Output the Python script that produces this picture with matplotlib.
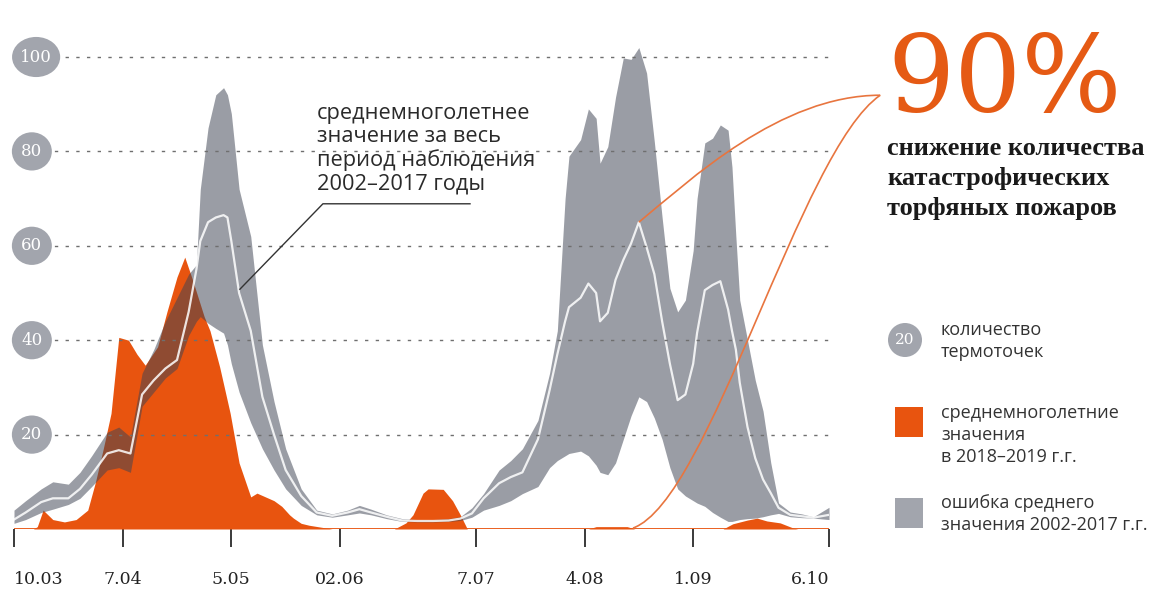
import matplotlib.pyplot as plt
from matplotlib.path import Path
from matplotlib.patches import PathPatch, Rectangle, Ellipse

# canvas size in pixels
W, H = 1152, 589

# days since 10 March
days = [0, 3, 7, 10, 14, 17, 20, 24, 27, 30, 33, 36, 39, 42, 45, 47, 48, 50, 52, 54,
        55, 56, 58, 61, 64, 67, 70, 74, 78, 82, 86, 89, 92, 96, 100, 104, 108, 112, 115, 118,
        121, 125, 128, 131, 135, 138, 140, 142, 143, 146, 148, 150, 151, 153, 155, 157, 159, 161, 163, 165,
        167, 169, 171, 173, 175, 176, 178, 180, 182, 184, 185, 186, 187, 189, 191, 193, 195, 197, 200, 203,
        206, 210]
# 2002-2017: upper / lower edge of the error band and the mean
upper = [4, 6, 8.5, 10, 9.5, 12, 15.5, 20.5, 21.6, 19.5, 33, 38, 44, 49, 54, 56, 72, 85, 92, 93.5,
         92, 88, 72, 62, 39, 27, 17, 8.5, 4, 3.2, 4, 5, 4.2, 3, 2.2, 2, 2, 2.2, 2.6, 4.5,
         7.5, 12.5, 14.5, 17, 23, 33, 42, 70, 79, 82.5, 89, 87, 77.5, 81, 91.5, 99.8, 99.5, 102, 96.6, 82,
         66, 51, 46, 48.5, 59, 70, 81.8, 82.8, 85.6, 84.5, 76.7, 62, 48.5, 40, 31.5, 25, 14, 5.5, 3.6, 3.2,
         2.6, 4.6]
lower = [1.2, 2, 3.5, 4.2, 5.2, 6.5, 9, 12.5, 13, 12, 26, 29, 32, 34, 41, 44, 45, 43.6, 42.5, 41.5,
         39, 35, 29, 22.5, 17, 12.5, 8.5, 5, 3, 2.5, 3, 3.4, 3, 2.2, 1.6, 1.5, 1.5, 1.6, 1.8, 2.5,
         4, 5, 6, 7.5, 9, 13, 14.5, 15.5, 16, 16.5, 15.5, 13.5, 12, 11.5, 14, 19, 24, 28, 27, 23.5,
         19, 13, 8.5, 7, 6, 5.5, 4.8, 3.5, 2.5, 1.6, 1.6, 1.8, 2, 2.2, 2.3, 2.6, 3, 3.3, 2.6, 2.4,
         2.3, 2]
mean = [2, 3.5, 5.7, 6.5, 6.5, 8.5, 11.5, 16, 16.7, 16, 28.5, 31.5, 34, 35.8, 46, 55, 61, 65, 66, 66.5,
        66, 61, 50, 42, 28, 20, 12.5, 7, 3.5, 2.8, 3.5, 4.2, 3.5, 2.6, 1.8, 1.7, 1.7, 1.8, 2.2, 3.3,
        6.5, 9.7, 11, 12, 19, 29.4, 37, 44, 47, 49, 52, 50, 44, 45.8, 52.8, 57, 60.5, 65, 59.7, 54,
        44, 35, 27.3, 28.5, 35, 41.5, 50.6, 51.7, 52.5, 46.5, 42, 38, 31, 21.6, 15, 10.5, 7.6, 4.5, 3, 2.7,
        2.4, 3]

# 2018-2019 average
fire_days = [0, 5, 6, 7.5, 10, 13, 16, 19, 21, 23, 25, 27, 29.5, 31.7, 33.8, 37, 39.4, 42, 44, 46,
             49, 50.5, 53, 55.7, 58, 61, 62.6, 67, 69, 71, 72, 74, 76, 79, 82, 98, 101, 102.8, 105.4, 106.7,
             110.6, 113, 115, 116.8, 148, 150, 158, 160, 182.7, 185.2, 189, 191.5, 194, 197.4, 200.8, 202, 210]
fire = [0, 0, 0.5, 4, 2, 1.5, 2, 4, 10, 17, 24.5, 40.6, 40, 37, 34.7, 38.6, 46, 53.4, 57.6, 52.8,
        45, 42, 34.3, 24.5, 14, 6.8, 7.6, 6, 4.8, 3, 2.3, 1.2, 0.8, 0.4, 0, 0, 1.3, 3, 7.6, 8.5,
        8.4, 6, 3, 0, 0, 0.5, 0.5, 0, 0, 1.1, 1.9, 2.3, 1.7, 1.3, 0.2, 0, 0]

tick_days = [0, 28, 56, 84, 119, 147, 175, 210]
tick_labels = ['10.03', '7.04', '5.05', '02.06', '7.07', '4.08', '1.09', '6.10']
grid_levels = [20, 40, 60, 80, 100]

ORANGE = '#E8540F'
BADGE = '#A2A5AD'
TEXT = '#2a2a2a'


def fx(x):
    return x / W


def fy(y):
    return 1 - y / H


fig = plt.figure(figsize=(W / 100, H / 100), dpi=100)
ax = fig.add_axes([fx(14), 60 / H, 815 / W, 495.6 / H])
ax.set_xlim(0, 210)
ax.set_ylim(0, 105)
for s in ax.spines.values():
    s.set_visible(False)

# orange area first, grey band on top (semi transparent -> darker overlap)
ax.fill_between(fire_days, 0, fire, color=ORANGE, lw=0, zorder=2)
ax.plot([0, 210], [0, 0], color=ORANGE, lw=1.3, zorder=2)
ax.fill_between(days, lower, upper, color='#3E4453', alpha=0.52, lw=0, zorder=3)
ax.plot(days, mean, color='white', lw=1.6, alpha=0.85, zorder=4)

# dotted grid
for lv in grid_levels:
    ax.plot([5, 210], [lv, lv], color='#6f6f6f', lw=1.0, ls=(0, (2.4, 5.3)), zorder=5)

# badges on the value axis (1 day = 3.88 px, 1 unit = 4.72 px)
for lv in grid_levels:
    wide = lv >= 100
    cx = 5.7 if wide else 4.6
    ax.add_patch(Ellipse((cx, lv), 12.4 if wide else 10.3, 8.5 if wide else 8.1,
                         fc=BADGE, ec='none', zorder=6, clip_on=False))
    ax.text(cx, lv, str(lv), ha='center', va='center', fontsize=12,
            family='DejaVu Serif', color='white', zorder=7, clip_on=False)

# x ticks
ax.set_yticks([])
ax.set_xticks(tick_days)
ax.set_xticklabels(tick_labels, family='DejaVu Serif', fontsize=12.5, color='#222222')
ax.tick_params(axis='x', length=13, width=1.4, color='#3a3a3a', pad=17)
labels = ax.get_xticklabels()
labels[0].set_horizontalalignment('left')
labels[-1].set_horizontalalignment('right')

# pointer for the mean line annotation
ax.plot([58.2, 79.6, 117.5], [50.8, 68.9, 68.9], color='#333333', lw=1.0, zorder=6, clip_on=False)
ann = ['среднемноголетнее', 'значение за весь', 'период наблюдения', '2002–2017 годы']
for i, line in enumerate(ann):
    fig.text(fx(317), fy(119 + 23.4 * i), line, family='Open Sans', fontsize=15.7,
             color=TEXT, va='baseline', ha='left')

# orange connector curves to the "90%" headline
k = max(range(55, len(mean)), key=lambda i: mean[i])
curves = [
    [(days[k], mean[k]), (174.2, 73.9), (197.4, 91.9), (223.2, 91.9)],
    [(159.5, 0.2), (179.4, 6.1), (202.6, 80.3), (223.2, 91.9)],
]
for pts in curves:
    path = Path(pts, [Path.MOVETO, Path.CURVE4, Path.CURVE4, Path.CURVE4])
    ax.add_patch(PathPatch(path, fc='none', ec='#E8753F', lw=1.2, zorder=7, clip_on=False))

# headline
fig.text(fx(887), fy(111), '90%', family='DejaVu Serif', fontsize=76, color='#E55A14',
         va='baseline', ha='left')
head = ['снижение количества', 'катастрофических', 'торфяных пожаров']
for i, line in enumerate(head):
    fig.text(fx(887), fy(155 + 30 * i), line, family='Liberation Serif', fontweight='bold',
             fontsize=19, color='#1a1a1a', va='baseline', ha='left')

# legend
fig.patches.append(Ellipse((fx(905), fy(340)), 34 / W, 34 / H, transform=fig.transFigure,
                           fc=BADGE, ec='none'))
fig.text(fx(905), fy(340), '20', family='DejaVu Serif', fontsize=11, color='white',
         ha='center', va='center')
fig.patches.append(Rectangle((fx(895), fy(437)), 28 / W, 30 / H, transform=fig.transFigure,
                             fc=ORANGE, ec='none'))
fig.patches.append(Rectangle((fx(895), fy(528)), 28 / W, 30 / H, transform=fig.transFigure,
                             fc=BADGE, ec='none'))
legend_text = [
    (['количество', 'термоточек'], 335),
    (['среднемноголетние', 'значения', 'в 2018–2019 г.г.'], 418),
    (['ошибка среднего', 'значения 2002-2017 г.г.'], 508),
]
for lines, y0 in legend_text:
    for i, line in enumerate(lines):
        fig.text(fx(941), fy(y0 + 22 * i), line, family='Open Sans', fontsize=13,
                 color='#333333', va='baseline', ha='left')

fig.savefig('out.png', dpi=100, facecolor='white')
